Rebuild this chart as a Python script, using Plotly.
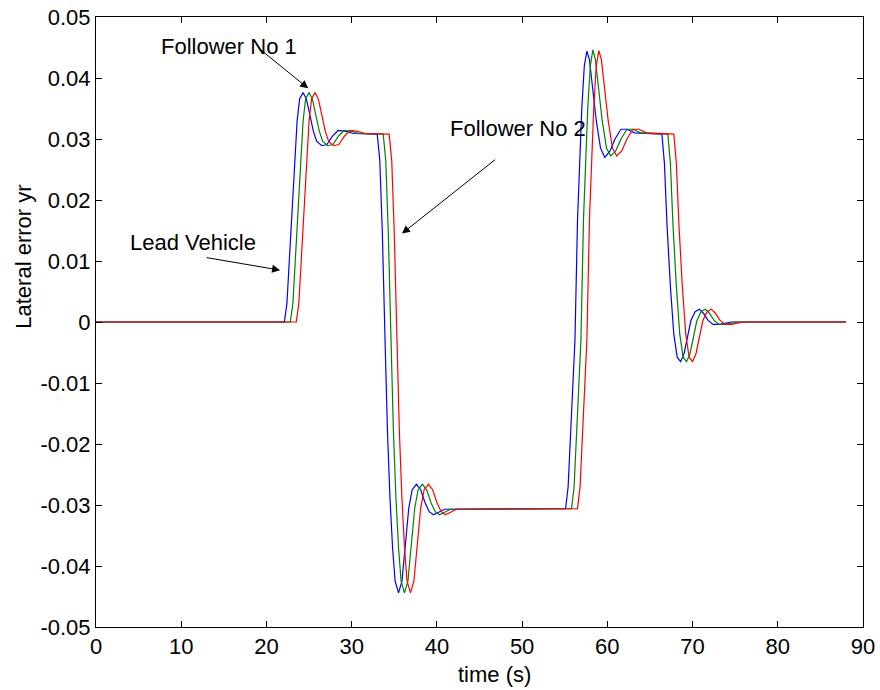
import plotly.graph_objects as go

# ---- data ----
t_lead = [0, 22.1, 22.4, 22.7, 23.0, 23.3, 23.6, 23.9, 24.3, 24.7, 25.1, 25.5, 25.9, 26.5, 27.1, 27.7,
          28.4, 29.2, 30.2, 33.0, 33.3, 33.6, 33.9, 34.2, 34.5, 34.8, 35.1, 35.5, 35.9, 36.3, 36.7, 37.1,
          37.6, 38.1, 38.6, 39.1, 39.6, 40.2, 40.9, 55.1, 55.4, 55.8, 56.2, 56.5, 56.8, 57.0, 57.3, 57.6,
          57.9, 58.3, 58.7, 59.2, 59.7, 60.3, 60.9, 61.6, 62.3, 63.2, 66.4, 66.7, 67.0, 67.4, 67.8, 68.2,
          68.6, 69.0, 69.4, 69.8, 70.3, 70.8, 71.3, 71.8, 72.4, 73.2, 74.5, 88.0]
y_lead = [0, 0, 0.003, 0.010, 0.018, 0.026, 0.033, 0.0366, 0.0376, 0.0365, 0.0340, 0.0313, 0.0296, 0.0289,
          0.0291, 0.0304, 0.0314, 0.0313, 0.0309, 0.0308, 0.0265, 0.0145, -0.002, -0.018, -0.029, -0.037,
          -0.0425, -0.0444, -0.0425, -0.036, -0.0305, -0.0275, -0.0266, -0.0275, -0.0296, -0.0311, -0.0316,
          -0.0312, -0.0307, -0.0306, -0.027, -0.015, -0.003, 0.0167, 0.029, 0.035, 0.042, 0.0444, 0.043,
          0.038, 0.033, 0.0285, 0.0270, 0.0280, 0.0300, 0.0316, 0.0316, 0.0310, 0.0308, 0.026, 0.016,
          0.0058, -0.002, -0.0058, -0.0065, -0.0052, -0.0025, 0.0002, 0.0017, 0.0021, 0.0014, 0.0003,
          -0.0004, -0.0004, 0.0, 0.0]

t_f1 = [0, 22.8, 23.1, 23.4, 23.7, 24.0, 24.3, 24.6, 25.0, 25.4, 25.8, 26.2, 26.6, 27.2, 27.8, 28.4,
        29.1, 29.9, 30.9, 33.7, 34.0, 34.3, 34.6, 34.9, 35.2, 35.5, 35.8, 36.2, 36.6, 37.0, 37.4, 37.8,
        38.3, 38.8, 39.3, 39.8, 40.3, 40.9, 41.6, 55.8, 56.1, 56.5, 56.9, 57.2, 57.5, 57.7, 58.0, 58.3,
        58.6, 59.0, 59.4, 59.9, 60.4, 61.0, 61.6, 62.3, 63.0, 63.9, 67.1, 67.4, 67.7, 68.1, 68.5, 68.9,
        69.3, 69.7, 70.1, 70.5, 71.0, 71.5, 72.0, 72.5, 73.1, 73.9, 75.2, 88.0]
y_f1 = [0, 0, 0.003, 0.010, 0.018, 0.026, 0.033, 0.0366, 0.0376, 0.0365, 0.0340, 0.0313, 0.0296, 0.0289,
        0.0291, 0.0304, 0.0314, 0.0313, 0.0309, 0.0308, 0.0265, 0.0145, -0.002, -0.018, -0.029, -0.037,
        -0.0425, -0.0444, -0.0425, -0.036, -0.0305, -0.0275, -0.0266, -0.0275, -0.0296, -0.0311, -0.0316,
        -0.0312, -0.0307, -0.0306, -0.027, -0.015, -0.003, 0.0167, 0.029, 0.035, 0.042, 0.0446, 0.043,
        0.038, 0.033, 0.0285, 0.0272, 0.0281, 0.0300, 0.0316, 0.0316, 0.0310, 0.0308, 0.026, 0.016,
        0.0058, -0.002, -0.0058, -0.0065, -0.0052, -0.0025, 0.0002, 0.0017, 0.0021, 0.0014, 0.0003,
        -0.0004, -0.0004, 0.0, 0.0]

t_f2 = [0, 23.5, 23.8, 24.1, 24.4, 24.7, 25.0, 25.3, 25.7, 26.1, 26.5, 26.9, 27.3, 27.9, 28.5, 29.1,
        29.8, 30.6, 31.6, 34.4, 34.7, 35.0, 35.3, 35.6, 35.9, 36.2, 36.5, 36.9, 37.3, 37.7, 38.1, 38.5,
        39.0, 39.5, 40.0, 40.5, 41.0, 41.6, 42.3, 56.5, 56.8, 57.2, 57.6, 57.9, 58.2, 58.4, 58.7, 59.0,
        59.3, 59.7, 60.1, 60.6, 61.1, 61.7, 62.3, 63.0, 63.7, 64.6, 67.8, 68.1, 68.4, 68.8, 69.2, 69.6,
        70.0, 70.4, 70.8, 71.2, 71.7, 72.2, 72.7, 73.2, 73.8, 74.6, 75.9, 88.0]
y_f2 = [0, 0, 0.003, 0.010, 0.018, 0.026, 0.033, 0.0366, 0.0376, 0.0365, 0.0340, 0.0313, 0.0296, 0.0289,
        0.0291, 0.0304, 0.0314, 0.0313, 0.0309, 0.0308, 0.0265, 0.0145, -0.002, -0.018, -0.029, -0.037,
        -0.0425, -0.0444, -0.0425, -0.036, -0.0305, -0.0275, -0.0266, -0.0275, -0.0296, -0.0311, -0.0316,
        -0.0312, -0.0307, -0.0306, -0.027, -0.015, -0.003, 0.0167, 0.029, 0.035, 0.042, 0.0445, 0.043,
        0.038, 0.033, 0.0285, 0.0272, 0.0281, 0.0300, 0.0316, 0.0316, 0.0310, 0.0308, 0.026, 0.016,
        0.0058, -0.002, -0.0058, -0.0065, -0.0052, -0.0025, 0.0002, 0.0017, 0.0021, 0.0014, 0.0003,
        -0.0004, -0.0004, 0.0, 0.0]

x_ticks = [0, 10, 20, 30, 40, 50, 60, 70, 80, 90]
x_tick_labels = ["0", "10", "20", "30", "40", "50", "60", "70", "80", "90"]
y_ticks = [0.05, 0.04, 0.03, 0.02, 0.01, 0, -0.01, -0.02, -0.03, -0.04, -0.05]
y_tick_labels = ["0.05", "0.04", "0.03", "0.02", "0.01", "0", "-0.01", "-0.02", "-0.03", "-0.04", "-0.05"]

FONT = "Liberation Sans, Arial, sans-serif"
FS = 22

fig = go.Figure()
fig.add_trace(go.Scatter(x=t_lead, y=y_lead, mode="lines", line=dict(color="#0000ff", width=1.2), name="Lead Vehicle"))
fig.add_trace(go.Scatter(x=t_f1, y=y_f1, mode="lines", line=dict(color="#008000", width=1.2), name="Follower No 1"))
fig.add_trace(go.Scatter(x=t_f2, y=y_f2, mode="lines", line=dict(color="#ff0000", width=1.2), name="Follower No 2"))

axis_common = dict(showgrid=False, zeroline=False, showline=True, linecolor="black", linewidth=1,
                   mirror="ticks", ticks="inside", ticklen=6, tickcolor="black", tickwidth=1,
                   automargin=False,
                   tickfont=dict(family=FONT, size=FS, color="black"))
fig.update_xaxes(range=[0, 90], tickmode="array", tickvals=x_ticks, ticktext=x_tick_labels, **axis_common)
fig.update_yaxes(range=[-0.05, 0.05], tickmode="array", tickvals=y_ticks, ticktext=y_tick_labels, **axis_common)

ann = []
# text labels
ann.append(dict(x=15.6, y=0.0452, xref="x", yref="y", text="Follower No 1", showarrow=False,
                font=dict(family=FONT, size=FS, color="black")))
ann.append(dict(x=11.4, y=0.0130, xref="x", yref="y", text="Lead Vehicle", showarrow=False,
                font=dict(family=FONT, size=FS, color="black")))
ann.append(dict(x=49.5, y=0.0318, xref="x", yref="y", text="Follower No 2", showarrow=False,
                font=dict(family=FONT, size=FS, color="black")))
# arrows
for (hx, hy, tx, ty) in [(24.9, 0.0383, 18.9, 0.0451), (21.6, 0.0085, 12.8, 0.0106), (35.9, 0.0145, 47.0, 0.0268)]:
    ann.append(dict(x=hx, y=hy, ax=tx, ay=ty, xref="x", yref="y", axref="x", ayref="y", text="",
                    showarrow=True, arrowhead=2, arrowsize=1.6, arrowwidth=1, arrowcolor="black", standoff=0))
# axis titles
ann.append(dict(x=0.52, y=0, xref="paper", yref="paper", yshift=-47, yanchor="middle", xanchor="center",
                text="time (s)", showarrow=False, font=dict(family=FONT, size=FS, color="black")))
ann.append(dict(x=0, y=0.607, xref="paper", yref="paper", xshift=-72, xanchor="center", yanchor="middle",
                textangle=-90, text="Lateral error yr", showarrow=False, font=dict(family=FONT, size=FS, color="black")))

fig.update_layout(width=880, height=690, margin=dict(l=96, r=17, t=17, b=63, autoexpand=False), showlegend=False,
                  plot_bgcolor="white", paper_bgcolor="white", annotations=ann)

fig.write_html("out.html")
